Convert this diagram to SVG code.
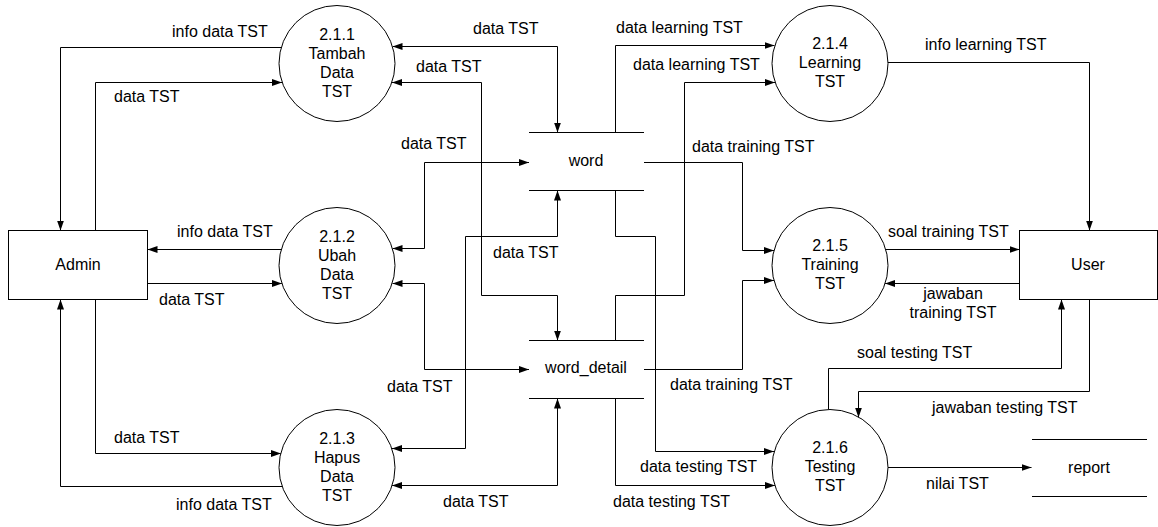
<svg xmlns="http://www.w3.org/2000/svg" width="1158" height="527" viewBox="0 0 1158 527">
<style>
text{font-family:"Liberation Sans",Arial,sans-serif;font-size:16px;fill:#000}
.c{text-anchor:middle}
.n{fill:#fff;stroke:#000;stroke-width:1}
.s{stroke:#000;stroke-width:1;fill:none}
#connectors path{fill:none;stroke:#000;stroke-width:1}
.a{marker-end:url(#arr)}
.b{marker-start:url(#arr);marker-end:url(#arr)}
</style>
<defs>
<marker id="arr" markerUnits="userSpaceOnUse" markerWidth="11" markerHeight="8" refX="10" refY="3.5" orient="auto-start-reverse" viewBox="0 0 11 8">
<path d="M0,0 L10,3.5 L0,7 z" fill="#000"/>
</marker>
</defs>
<rect width="1158" height="527" fill="#fff"/>
<g id="connectors">
<path class="a" d="M281,47.5 H60.5 V230.5"/>
<path class="a" d="M95.5,230.5 V82.5 H282"/>
<path class="a" d="M281,249.5 H147.5"/>
<path class="a" d="M147.5,283.5 H282"/>
<path class="a" d="M95.5,299.5 V453.5 H281"/>
<path class="a" d="M282,486.5 H60.5 V299.5"/>
<path class="b" d="M392.5,46.5 H557.5 V132.5"/>
<path class="b" d="M392,82.5 H481.5 V295.5 H557.5 V340.5"/>
<path class="b" d="M392.5,248.5 H424.5 V162.5 H529"/>
<path class="b" d="M392.5,283.5 H424.5 V369.5 H529"/>
<path class="b" d="M392,448.5 H465.5 V236.5 H557.5 V190.5"/>
<path class="b" d="M392,485.5 H557.5 V398.5"/>
<path class="a" d="M615.5,132.5 V45.5 H774.5"/>
<path class="a" d="M615.5,340.5 V295.5 H684.5 V82.5 H775"/>
<path class="a" d="M615.5,190.5 V236.5 H655.5 V451.5 H774"/>
<path class="a" d="M615.5,398.5 V485.5 H775"/>
<path class="a" d="M644,162.5 H742.5 V250.5 H774"/>
<path class="a" d="M644,369.5 H742.5 V280.5 H774"/>
<path class="a" d="M888,62.5 H1089.5 V230.5"/>
<path class="a" d="M885.5,249.5 H1019.5"/>
<path class="a" d="M1019.5,283.5 H885"/>
<path class="a" d="M828.5,409.5 V368.5 H1061.5 V299.5"/>
<path class="a" d="M1089.5,299.5 V391.5 H858.5 V417.5"/>
<path class="a" d="M888,467.5 H1031.5"/>
</g>
<g id="labels">
<text x="172" y="37">info data TST</text>
<text x="114" y="102">data TST</text>
<text x="177" y="237">info data TST</text>
<text x="159" y="305">data TST</text>
<text x="114" y="443">data TST</text>
<text x="176" y="510">info data TST</text>
<text x="473" y="34">data TST</text>
<text x="416" y="72">data TST</text>
<text x="401" y="149">data TST</text>
<text x="493" y="258">data TST</text>
<text x="387" y="392">data TST</text>
<text x="443" y="507">data TST</text>
<text x="616" y="33">data learning TST</text>
<text x="633" y="70">data learning TST</text>
<text x="692" y="152">data training TST</text>
<text x="670" y="390">data training TST</text>
<text x="640" y="472">data testing TST</text>
<text x="613" y="507">data testing TST</text>
<text x="925" y="50">info learning TST</text>
<text x="888" y="237">soal training TST</text>
<text class="c" x="953" y="299">jawaban</text>
<text class="c" x="953" y="318">training TST</text>
<text x="857" y="358">soal testing TST</text>
<text x="932" y="413">jawaban testing TST</text>
<text x="926" y="489">nilai TST</text>
</g>
<g id="admin">
<rect class="n" x="8.5" y="230.5" width="139" height="69"/>
<text class="c" x="78" y="270">Admin</text>
</g>
<g id="user">
<rect class="n" x="1019.5" y="230.5" width="138" height="69"/>
<text class="c" x="1088" y="270">User</text>
</g>
<g id="p211">
<circle class="n" cx="337" cy="63.5" r="58"/>
<text class="c" x="337" y="40">2.1.1</text>
<text class="c" x="337" y="59">Tambah</text>
<text class="c" x="337" y="78">Data</text>
<text class="c" x="337" y="97">TST</text>
</g>
<g id="p212">
<circle class="n" cx="337" cy="265.5" r="58"/>
<text class="c" x="337" y="242">2.1.2</text>
<text class="c" x="337" y="261">Ubah</text>
<text class="c" x="337" y="280">Data</text>
<text class="c" x="337" y="299">TST</text>
</g>
<g id="p213">
<circle class="n" cx="337" cy="467.5" r="58"/>
<text class="c" x="337" y="444">2.1.3</text>
<text class="c" x="337" y="463">Hapus</text>
<text class="c" x="337" y="482">Data</text>
<text class="c" x="337" y="501">TST</text>
</g>
<g id="p214">
<circle class="n" cx="830" cy="63.5" r="58"/>
<text class="c" x="830" y="49">2.1.4</text>
<text class="c" x="830" y="68">Learning</text>
<text class="c" x="830" y="87">TST</text>
</g>
<g id="p215">
<circle class="n" cx="830" cy="265.5" r="58"/>
<text class="c" x="830" y="251">2.1.5</text>
<text class="c" x="830" y="270">Training</text>
<text class="c" x="830" y="289">TST</text>
</g>
<g id="p216">
<circle class="n" cx="830" cy="467.5" r="58"/>
<text class="c" x="830" y="453">2.1.6</text>
<text class="c" x="830" y="472">Testing</text>
<text class="c" x="830" y="491">TST</text>
</g>
<g id="word">
<path class="s" d="M529,132.5 H644 M529,190.5 H644"/>
<text class="c" x="586" y="166">word</text>
</g>
<g id="word_detail">
<path class="s" d="M529,340.5 H644 M529,398.5 H644"/>
<text class="c" x="586" y="373">word_detail</text>
</g>
<g id="report">
<path class="s" d="M1032,439.5 H1147 M1032,496.5 H1147"/>
<text class="c" x="1089" y="473">report</text>
</g>
</svg>
